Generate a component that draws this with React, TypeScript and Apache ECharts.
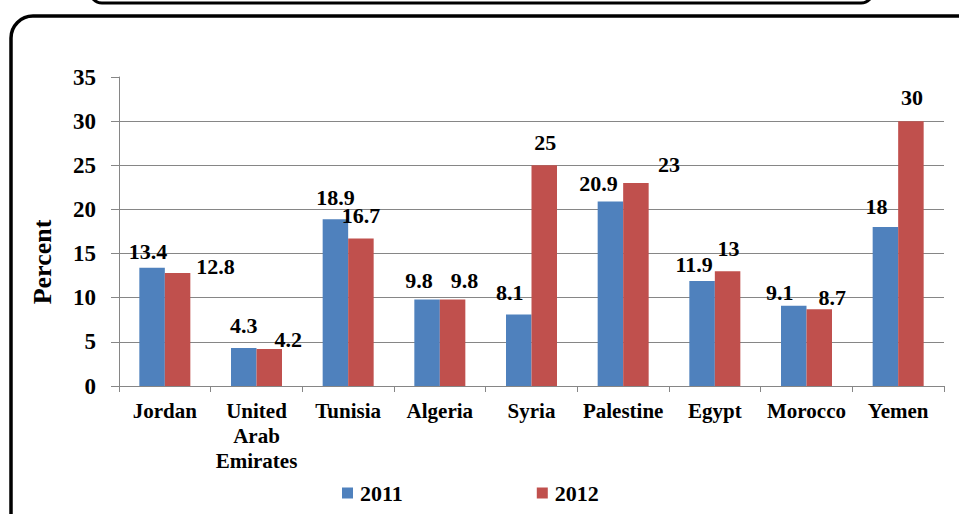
import React, { useEffect, useRef } from "react";
import * as echarts from "echarts";

const categories = ["Jordan", "United\nArab\nEmirates", "Tunisia", "Algeria", "Syria", "Palestine", "Egypt", "Morocco", "Yemen"];
const values2011 = [13.4, 4.3, 18.9, 9.8, 8.1, 20.9, 11.9, 9.1, 18];
const values2012 = [12.8, 4.2, 16.7, 9.8, 25, 23, 13, 8.7, 30];
const seriesNames = ["2011", "2012"];
const yTicks = { min: 0, max: 35, interval: 5 };

// label nudges (style only)
const offsets2011 = [[-4, 0], [0, -7], [0, -6], [-8, -3], [-9, -6], [-12, -2], [-8, 0], [-14, 3], [-9, -5]];
const offsets2012 = [[38, 10], [19, 7], [0, -7], [12, -3], [1, -7], [33, -2], [1, -7], [13, 4], [1, -8]];

const FONT = "Liberation Serif";

export default function App() {
  const ref = useRef<HTMLDivElement>(null);
  useEffect(() => {
    if (!ref.current) return;
    const chart = echarts.init(ref.current, null, { renderer: "svg" });
    const labelBase = {
      show: true,
      position: "top",
      distance: 5,
      fontSize: 22,
      fontWeight: "bold",
      fontFamily: FONT,
      color: "#000",
    };
    const mk = (vals: number[], offs: number[][]) =>
      vals.map((v, i) => ({ value: v, label: { offset: offs[i] } }));
    chart.setOption({
      animation: false,
      backgroundColor: "#fff",
      textStyle: { fontFamily: FONT },
      grid: { left: 119, right: 15, top: 77, bottom: 128, containLabel: false },
      legend: {
        data: seriesNames,
        left: 342,
        top: 482,
        padding: 0,
        icon: "rect",
        itemWidth: 11,
        itemHeight: 11,
        itemGap: 134,
        textStyle: { fontSize: 22, fontWeight: "bold", fontFamily: FONT, color: "#000", padding: [0, 0, 0, 2] },
      },
      xAxis: {
        type: "category",
        data: categories,
        axisLine: { show: true, lineStyle: { color: "#868686", width: 1 } },
        axisTick: { show: true, length: 6, lineStyle: { color: "#868686" } },
        axisLabel: {
          interval: 0,
          margin: 12,
          fontSize: 21,
          fontWeight: "bold",
          fontFamily: FONT,
          color: "#000",
          lineHeight: 25,
          verticalAlign: "top",
        },
      },
      yAxis: {
        type: "value",
        min: yTicks.min,
        max: yTicks.max,
        interval: yTicks.interval,
        axisLine: { show: true, lineStyle: { color: "#868686", width: 1 } },
        axisTick: { show: true, length: 8, lineStyle: { color: "#868686" } },
        splitLine: { show: true, showMaxLine: false, lineStyle: { color: "#868686", width: 1 } },
        axisLabel: { margin: 23, fontSize: 23, fontWeight: "bold", fontFamily: FONT, color: "#000" },
      },
      series: [
        {
          name: seriesNames[0],
          type: "bar",
          barWidth: 25.5,
          barGap: "0%",
          itemStyle: { color: "#4F81BD" },
          label: labelBase,
          data: mk(values2011, offsets2011),
        },
        {
          name: seriesNames[1],
          type: "bar",
          barWidth: 25.5,
          barGap: "0%",
          itemStyle: { color: "#C0504D" },
          label: labelBase,
          data: mk(values2012, offsets2012),
        },
      ],
      graphic: [
        {
          type: "rect",
          shape: { x: 11, y: 16, width: 975, height: 520, r: 22 },
          style: { fill: "none", stroke: "#000", lineWidth: 3.5 },
          silent: true,
        },
        {
          type: "rect",
          shape: { x: 90, y: -40, width: 783, height: 43, r: 12 },
          style: { fill: "none", stroke: "#000", lineWidth: 3 },
          silent: true,
        },
        {
          type: "text",
          x: 42,
          y: 262,
          rotation: Math.PI / 2,
          style: {
            text: "Percent",
            fontSize: 26,
            fontWeight: "bold",
            fontFamily: FONT,
            fill: "#000",
            align: "center",
            verticalAlign: "middle",
          },
        },
      ],
    });
    return () => chart.dispose();
  }, []);
  return (
    <div
      ref={ref}
      style={{ position: "fixed", left: 0, top: 0, width: 959, height: 514 }}
    />
  );
}
